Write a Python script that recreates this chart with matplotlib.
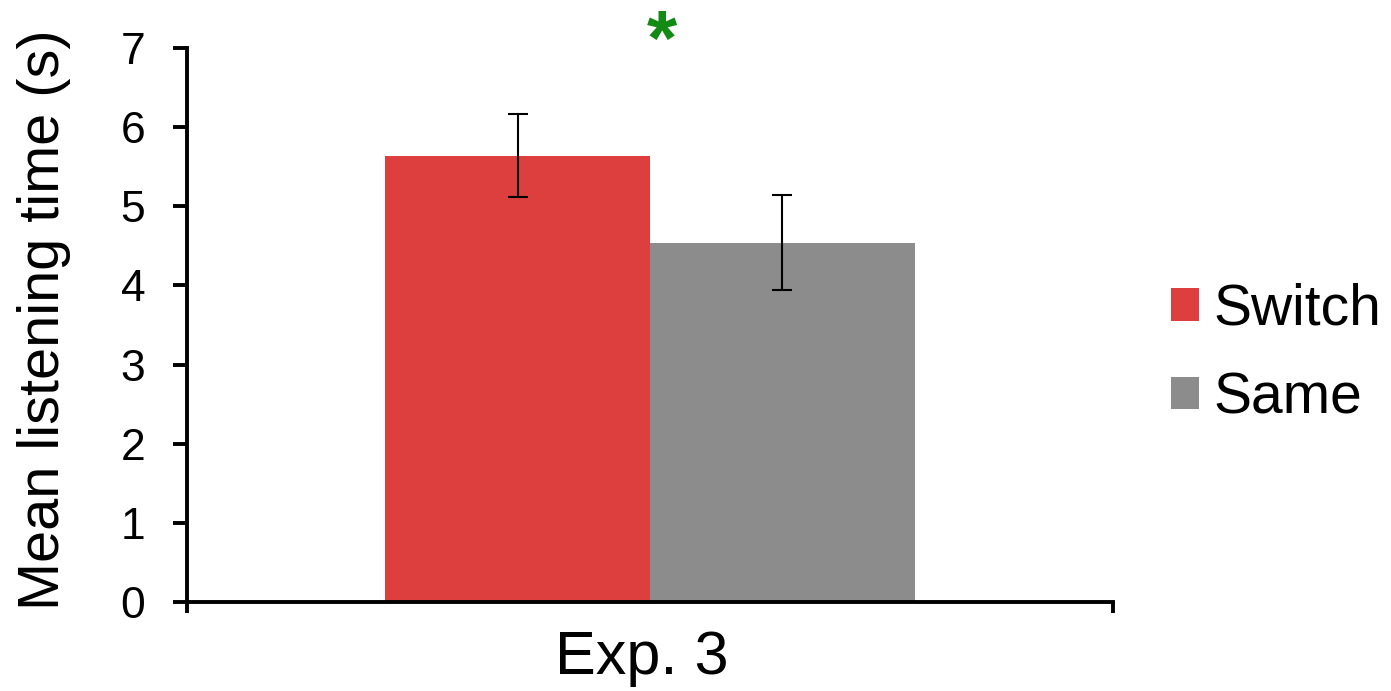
import matplotlib.pyplot as plt
import numpy as np

plt.rcParams['font.family'] = ['Liberation Sans', 'DejaVu Sans']

# data
groups = ['Switch', 'Same']
means = [5.64, 4.54]
errors = [0.52, 0.60]
colors = ['#DC3F3D', '#8C8C8C']
category = 'Exp. 3'
yticks = [0, 1, 2, 3, 4, 5, 6, 7]

W, H = 1391, 691
fig = plt.figure(figsize=(W / 100, H / 100), dpi=100)
ax = fig.add_axes([187 / W, 1 - 602 / H, (1113 - 187) / W, (602 - 48) / H])

width = 0.286
offsets = [-width / 2, width / 2]
for name, m, e, c, off in zip(groups, means, errors, colors, offsets):
    ax.bar(off, m, width=width, color=c, label=name)
    ax.errorbar(off, m, yerr=e, fmt='none', ecolor='black', elinewidth=1.5,
                capsize=7, capthick=1.5)

# significance marker
ax.text(0.013, 7.05, '*', color='#138A13', fontsize=56, fontweight='bold',
        ha='center', va='center', clip_on=False)

ax.set_xlim(-0.5, 0.5)
ax.set_ylim(0, 7)
ax.set_yticks(yticks)
ax.set_yticklabels([str(t) for t in yticks], fontsize=32)
ax.set_xticks([-0.5, 0.5])
ax.set_xticklabels([])
ax.tick_params(axis='y', direction='out', length=10, width=2.8, pad=20)
ax.tick_params(axis='x', direction='out', length=8, width=2.8)
ax.text(-0.009, -0.72, category, fontsize=44, ha='center', va='center',
        clip_on=False)

for s in ['top', 'right']:
    ax.spines[s].set_visible(False)
for s in ['left', 'bottom']:
    ax.spines[s].set_linewidth(2.8)

fig.text(44 / W, 1 - 320 / H, 'Mean listening time (s)', fontsize=41.5,
         rotation=90, ha='center', va='center')

ax.legend(loc='center left', bbox_to_anchor=(1171 / W, 1 - 354 / H),
          bbox_transform=fig.transFigure, frameon=False, borderpad=0,
          borderaxespad=0, fontsize=41, handlelength=0.5, handleheight=0.5,
          handletextpad=0.25, labelspacing=0.6)

fig.savefig('out.png', dpi=100)
